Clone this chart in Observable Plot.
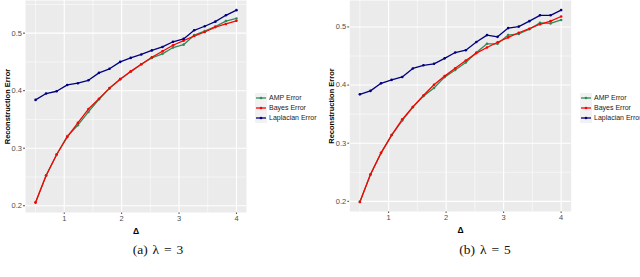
<!DOCTYPE html>
<html><head><meta charset="utf-8">
<script src="https://cdn.jsdelivr.net/npm/d3@7"></script>
<script src="https://cdn.jsdelivr.net/npm/@observablehq/plot@0.6"></script>
<style>
body{margin:0;background:#fff;width:640px;height:277px;overflow:hidden;position:relative;font-family:"Liberation Sans",Arial,sans-serif}
.panel{position:absolute;top:0}
.legend{position:absolute;font-size:7px;color:#1a1a1a;line-height:10px}
.legend .row{display:flex;align-items:center;height:10px;white-space:nowrap}
.legend svg{display:block;margin-right:2px}
.caption{position:absolute;font-family:"Liberation Serif","DejaVu Serif",serif;font-size:13.5px;word-spacing:1.5px;color:#111;white-space:nowrap;transform:translateX(-50%)}
g[aria-label="x-axis label"] text, g[aria-label="x-axis label"]{fill:#000;font-weight:bold;font-size:8.5px}
g[aria-label="y-axis label"] text, g[aria-label="y-axis label"]{fill:#000;font-weight:600;font-size:7.5px}
</style></head><body>
<div id="pa" class="panel" style="left:0"></div>
<div id="pb" class="panel" style="left:320px"></div>
<div id="la" class="legend" style="left:255px;top:92.7px"></div>
<div id="lb" class="legend" style="left:580px;top:92.7px"></div>
<div class="caption" style="left:158px;top:242px">(a) λ = 3</div>
<div class="caption" style="left:485px;top:242px">(b) λ = 5</div>
<script>
const delta = [0.5, 0.684, 0.868, 1.053, 1.237, 1.421, 1.605, 1.789, 1.974, 2.158, 2.342, 2.526, 2.711, 2.895, 3.079, 3.263, 3.447, 3.632, 3.816, 4.0];
const seriesNames = ["AMP Error", "Bayes Error", "Laplacian Error"];
const seriesColors = ["#2e8b57", "#ff0000", "#000080"];

// panel (a) lambda = 3
const ampA = [0.205, 0.2525, 0.289, 0.321, 0.340, 0.363, 0.385, 0.404, 0.420, 0.433, 0.446, 0.457, 0.464, 0.475, 0.480, 0.4965, 0.5035, 0.5115, 0.521, 0.5255];
const bayesA = [0.206, 0.2525, 0.289, 0.3195, 0.344, 0.368, 0.386, 0.4045, 0.420, 0.4336, 0.446, 0.458, 0.4686, 0.479, 0.487, 0.495, 0.502, 0.5105, 0.516, 0.5215];
const lapA = [0.384, 0.395, 0.399, 0.410, 0.413, 0.418, 0.431, 0.438, 0.450, 0.457, 0.463, 0.470, 0.476, 0.485, 0.490, 0.505, 0.512, 0.520, 0.531, 0.540];

// panel (b) lambda = 5
const ampB = [0.199, 0.246, 0.283, 0.314, 0.339, 0.362, 0.381, 0.395, 0.4137, 0.426, 0.439, 0.456, 0.471, 0.471, 0.486, 0.488, 0.496, 0.507, 0.506, 0.512];
const bayesB = [0.199, 0.246, 0.2834, 0.314, 0.341, 0.3623, 0.382, 0.4006, 0.4154, 0.429, 0.4423, 0.455, 0.4646, 0.4737, 0.482, 0.490, 0.497, 0.5046, 0.510, 0.518];
const lapB = [0.384, 0.390, 0.403, 0.409, 0.414, 0.4286, 0.434, 0.4366, 0.446, 0.456, 0.460, 0.474, 0.486, 0.483, 0.498, 0.5006, 0.510, 0.520, 0.520, 0.529];

const xTicks = [1, 2, 3, 4];
const xMinor = [0.5, 1.5, 2.5, 3.5];
const yTicks = [0.2, 0.3, 0.4, 0.5];
const yMinor = [0.25, 0.35, 0.45, 0.55];

function rowsOf(list) {
  const out = [];
  list.forEach((vals, k) => vals.forEach((v, i) => out.push({delta: delta[i], err: v, series: seriesNames[k]})));
  return out;
}

function panel(amp, bayes, lap, m) {
  const all = [...amp, ...bayes, ...lap];
  const lo = d3.min(all), hi = d3.max(all), pad = (hi - lo) * 0.05;
  const rows = rowsOf([amp, bayes, lap]);
  return Plot.plot({
    width: 320, height: 240,
    marginLeft: m.left, marginRight: m.right, marginTop: 0, marginBottom: m.bottom,
    style: {fontFamily: '"Liberation Sans", Arial, sans-serif', fontSize: "7.5px", color: "#4d4d4d", background: "transparent", overflow: "visible"},
    x: {domain: [0.5 - 0.175, 4.0 + 0.175], ticks: xTicks, tickFormat: d3.format("d"), tickSize: 2, tickPadding: 1.5,
        label: "Δ", labelAnchor: "center", labelArrow: "none", labelOffset: 21},
    y: {domain: [lo - pad, hi + pad], ticks: yTicks, tickFormat: d3.format(".1f"), tickSize: 2, tickPadding: 1.5,
        label: "Reconstruction Error", labelAnchor: "center", labelArrow: "none", labelOffset: m.labelOffset},
    color: {domain: seriesNames, range: seriesColors},
    marks: [
      Plot.frame({fill: "#ebebeb", stroke: null}),
      Plot.ruleX(xMinor, {stroke: "white", strokeWidth: 0.55}),
      Plot.ruleY(yMinor, {stroke: "white", strokeWidth: 0.55}),
      Plot.ruleX(xTicks, {stroke: "white", strokeWidth: 1.1}),
      Plot.ruleY(yTicks, {stroke: "white", strokeWidth: 1.1}),
      Plot.line(rows, {x: "delta", y: "err", z: "series", stroke: "series", strokeWidth: 1.3}),
      Plot.dot(rows, {x: "delta", y: "err", fill: "series", r: 1.3})
    ]
  });
}

document.getElementById("pa").append(panel(ampA, bayesA, lapA, {left: 25, right: 74, bottom: 28, labelOffset: 21}));
document.getElementById("pb").append(panel(ampB, bayesB, lapB, {left: 29.3, right: 69.3, bottom: 29, labelOffset: 21}));

function legend(id) {
  const el = document.getElementById(id);
  seriesNames.forEach((n, i) => {
    const row = document.createElement("div");
    row.className = "row";
    row.innerHTML = `<svg width="12" height="10"><rect width="12" height="10" fill="#f2f2f2"/><line x1="1" x2="11" y1="5" y2="5" stroke="${seriesColors[i]}" stroke-width="1.3"/><circle cx="6" cy="5" r="1.3" fill="${seriesColors[i]}"/></svg><span>${n}</span>`;
    el.append(row);
  });
}
legend("la");
legend("lb");
</script>
</body></html>
